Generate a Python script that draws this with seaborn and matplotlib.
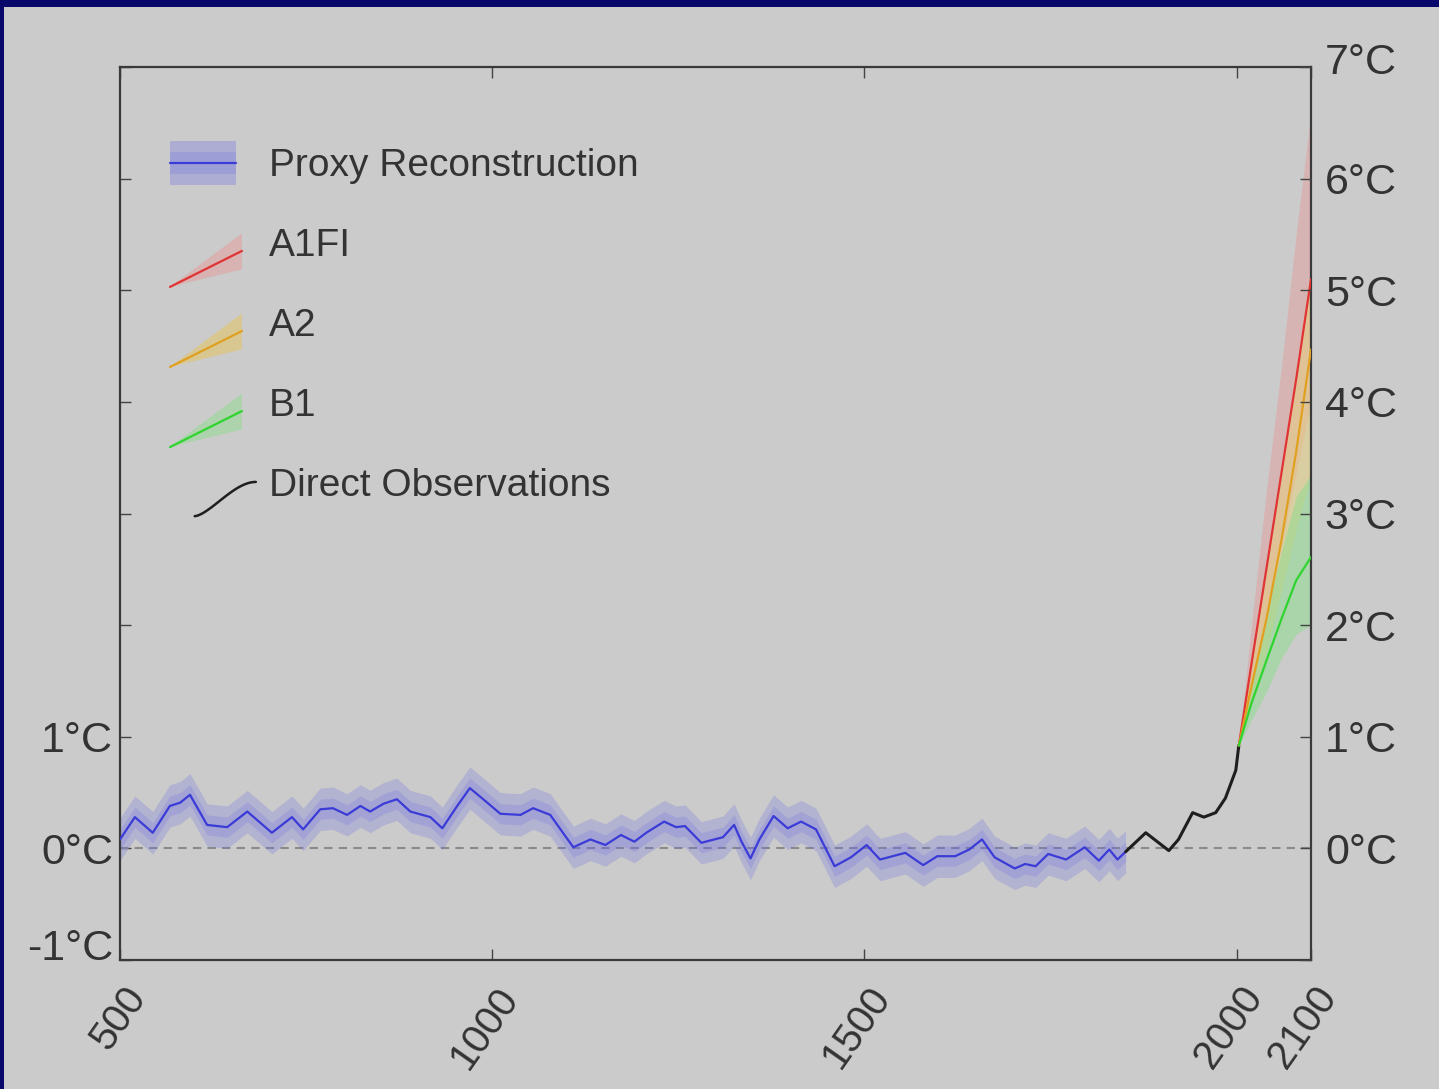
import numpy as np
import pandas as pd
import matplotlib
matplotlib.use("Agg")
import matplotlib.pyplot as plt
import matplotlib.transforms as mtransforms
import seaborn as sns
from matplotlib.patches import Rectangle, Polygon
from matplotlib.lines import Line2D
from matplotlib.legend_handler import HandlerBase


# proxy reconstruction (year, anomaly in degC)
proxy_years = [500, 520, 544, 567, 581, 594, 617, 644, 671, 704, 731, 746, 769, 786,
               805, 823, 836, 854, 872, 890, 917, 933, 953, 970, 988, 1011, 1038,
               1055, 1078, 1095, 1109, 1132, 1152, 1173, 1191, 1207, 1231, 1247,
               1259, 1281, 1310, 1325, 1335, 1347, 1359, 1378, 1397, 1415, 1435,
               1460, 1482, 1503, 1521, 1555, 1579, 1598, 1622, 1641, 1658, 1675,
               1702, 1716, 1730, 1747, 1771, 1796, 1815, 1829, 1840, 1851]
proxy_temp = [0.08, 0.28, 0.14, 0.38, 0.41, 0.48, 0.21, 0.19, 0.33, 0.14, 0.28, 0.17,
              0.35, 0.36, 0.30, 0.38, 0.33, 0.40, 0.44, 0.33, 0.28, 0.18, 0.38, 0.54,
              0.44, 0.31, 0.30, 0.36, 0.30, 0.14, 0.01, 0.08, 0.03, 0.12, 0.06, 0.14,
              0.24, 0.19, 0.20, 0.05, 0.10, 0.21, 0.06, -0.09, 0.08, 0.29, 0.18, 0.24,
              0.17, -0.16, -0.08, 0.03, -0.10, -0.04, -0.15, -0.07, -0.07, -0.01,
              0.08, -0.08, -0.18, -0.14, -0.16, -0.05, -0.10, 0.01, -0.11, -0.01,
              -0.10, -0.03]
proxy_inner = 0.09
proxy_outer = 0.19

# direct observations
obs_years = [1851, 1878, 1909, 1922, 1941, 1956, 1972, 1985, 1999, 2003]
obs_temp = [-0.03, 0.14, -0.02, 0.08, 0.32, 0.28, 0.32, 0.45, 0.70, 0.92]

# scenarios
scen_years = [2003, 2020, 2040, 2060, 2080, 2100]
a1fi_mid = [0.92, 1.65, 2.50, 3.35, 4.20, 5.10]
a1fi_lo = [0.92, 1.45, 2.05, 2.70, 3.35, 4.00]
a1fi_hi = [0.92, 2.00, 3.20, 4.30, 5.50, 6.60]
a2_mid = [0.92, 1.45, 2.05, 2.75, 3.55, 4.47]
a2_lo = [0.92, 1.30, 1.75, 2.30, 2.85, 3.35]
a2_hi = [0.92, 1.65, 2.50, 3.40, 4.30, 5.20]
b1_mid = [0.92, 1.30, 1.68, 2.05, 2.40, 2.61]
b1_lo = [0.92, 1.15, 1.40, 1.70, 1.92, 2.00]
b1_hi = [0.92, 1.50, 2.10, 2.65, 3.15, 3.35]

x_ticks = [500, 1000, 1500, 2000, 2100]
y_ticks = [-1, 0, 1, 2, 3, 4, 5, 6, 7]
left_labels = ["-1°C", "0°C", "1°C", "", "", "", "", "", ""]
right_labels = ["", "0°C", "1°C", "2°C", "3°C", "4°C", "5°C", "6°C", "7°C"]

BG = "#cbcbcb"
NAVY = "#08086a"
TXT = "#333333"
BLUE = "#3b3bd8"
RED = "#e03434"
ORANGE = "#e0a020"
GREEN = "#2fd42f"

sns.set_style("ticks")
plt.rcParams["font.family"] = ["Liberation Sans", "DejaVu Sans"]

fig = plt.figure(figsize=(14.39, 10.89), dpi=100, facecolor=NAVY)
fig.add_artist(Rectangle((4 / 1439, 0), 1, 1 - 7 / 1089, transform=fig.transFigure,
                         fc=BG, ec="none", zorder=-5))
ax = fig.add_axes([120 / 1439, 1 - 960 / 1089, 1191 / 1439, 893 / 1089])
ax.set_facecolor(BG)

py = np.array(proxy_temp)
ax.fill_between(proxy_years, py - proxy_outer, py + proxy_outer, color="#6a6ae6",
                alpha=0.25, lw=0, zorder=2)
ax.fill_between(proxy_years, py - proxy_inner, py + proxy_inner, color="#6a6ae6",
                alpha=0.22, lw=0, zorder=2)

ax.fill_between(scen_years, a1fi_lo, a1fi_hi, color="#e79a9a", alpha=0.45, lw=0, zorder=2)
ax.fill_between(scen_years, a2_lo, a2_hi, color="#e8d27a", alpha=0.5, lw=0, zorder=2)
ax.fill_between(scen_years, b1_lo, b1_hi, color="#8fdc8f", alpha=0.55, lw=0, zorder=2)

ax.axhline(0, color="#8a8a8a", ls=(0, (4, 3)), lw=1.5, zorder=1)

proxy_df = pd.DataFrame({"year": proxy_years, "temp": proxy_temp})
obs_df = pd.DataFrame({"year": obs_years, "temp": obs_temp})
sns.lineplot(data=proxy_df, x="year", y="temp", color=BLUE, lw=1.6, ax=ax, zorder=3)
sns.lineplot(data=obs_df, x="year", y="temp", color="#1e1e1e", lw=2.2, ax=ax, zorder=3)
for mid, col in [(a1fi_mid, RED), (a2_mid, ORANGE), (b1_mid, GREEN)]:
    sns.lineplot(x=scen_years, y=mid, color=col, lw=1.6, ax=ax, zorder=3)

ax.set_xlim(500, 2100)
ax.set_ylim(-1, 7)
ax.set_xlabel("")
ax.set_ylabel("")

for s in ax.spines.values():
    s.set_color("#3a3a3a")
    s.set_linewidth(1.6)
    s.set_visible(True)

ax.set_xticks(x_ticks)
ax.set_xticklabels([str(v) for v in x_ticks], fontsize=29, color=TXT)
ax.tick_params(axis="x", direction="in", top=True, length=8, width=1,
               color="#444444", pad=22)
offset = mtransforms.ScaledTranslation(0.18, 0, fig.dpi_scale_trans)
for lab in ax.get_xticklabels():
    lab.set_rotation(55)
    lab.set_ha("right")
    lab.set_va("center")
    lab.set_rotation_mode("anchor")
    lab.set_transform(lab.get_transform() + offset)

ax.set_yticks(y_ticks)
ax.set_yticklabels(left_labels, fontsize=31, color=TXT)
ax.tick_params(axis="y", direction="in", length=8, width=1, color="#444444", pad=5)
# lowest label sits a little above its tick
low = ax.get_yticklabels()[0]
low.set_transform(low.get_transform() +
                  mtransforms.ScaledTranslation(0, 0.16, fig.dpi_scale_trans))

ax2 = ax.twinx()
ax2.set_ylim(-1, 7)
ax2.set_yticks(y_ticks)
ax2.set_yticklabels(right_labels, fontsize=31, color=TXT)
ax2.tick_params(axis="y", direction="in", length=8, width=1, color="#444444", pad=10)
for s in ax2.spines.values():
    s.set_visible(False)
top = ax2.get_yticklabels()[-1]
top.set_transform(top.get_transform() +
                  mtransforms.ScaledTranslation(0, 0.09, fig.dpi_scale_trans))


# legend glyphs
class ProxyHandler(HandlerBase):
    def create_artists(self, legend, orig_handle, xd, yd, w, h, fs, trans):
        x0, y0 = -xd, -yd
        outer = Rectangle((x0, y0), w * 0.92, h, fc="#6a6ae6", alpha=0.3, ec="none",
                          transform=trans)
        inner = Rectangle((x0, y0 + h * 0.25), w * 0.92, h * 0.5, fc="#6a6ae6",
                          alpha=0.22, ec="none", transform=trans)
        line = Line2D([x0, x0 + w * 0.92], [y0 + h / 2] * 2, color=BLUE, lw=1.6,
                      transform=trans)
        return [outer, inner, line]


class WedgeHandler(HandlerBase):
    def __init__(self, line_color, fill_color):
        super().__init__()
        self.line_color = line_color
        self.fill_color = fill_color

    def create_artists(self, legend, orig_handle, xd, yd, w, h, fs, trans):
        x0, y0 = -xd, -yd
        tip = (x0, y0 - 0.5 * h)
        poly = Polygon([tip, (x0 + w, y0 + 0.72 * h), (x0 + w, y0 - 0.1 * h)],
                       closed=True, fc=self.fill_color, alpha=0.5, ec="none",
                       transform=trans)
        line = Line2D([tip[0], x0 + w], [tip[1], y0 + 0.32 * h], color=self.line_color,
                      lw=1.6, transform=trans)
        return [poly, line]


class ObsHandler(HandlerBase):
    def create_artists(self, legend, orig_handle, xd, yd, w, h, fs, trans):
        x0, y0 = -xd, -yd
        t = np.linspace(0, 1, 40)
        xs = x0 + w * (0.15 + 0.85 * t) + 10
        ys = y0 + h * (-0.25 + 0.78 * (3 * t ** 2 - 2 * t ** 3) ** 0.8)
        line = Line2D(xs, ys, color="#1e1e1e", lw=1.8, transform=trans)
        return [line]


h_proxy = Line2D([], [], color=BLUE)
h_a1fi = Line2D([], [], color=RED)
h_a2 = Line2D([], [], color=ORANGE)
h_b1 = Line2D([], [], color=GREEN)
h_obs = Line2D([], [], color="black")

leg = ax.legend(
    [h_proxy, h_a1fi, h_a2, h_b1, h_obs],
    ["Proxy Reconstruction", "A1FI", "A2", "B1", "Direct Observations"],
    handler_map={
        h_proxy: ProxyHandler(),
        h_a1fi: WedgeHandler(RED, "#e79a9a"),
        h_a2: WedgeHandler(ORANGE, "#e8c45a"),
        h_b1: WedgeHandler(GREEN, "#8fdc8f"),
        h_obs: ObsHandler(),
    },
    loc="upper left", bbox_to_anchor=(50 / 1191, 1 - 74 / 893), borderaxespad=0,
    borderpad=0, frameon=False, fontsize=28, handlelength=1.85, handleheight=1.36,
    labelspacing=0.93, handletextpad=0.7, labelcolor=TXT,
)

fig.savefig("out.png", dpi=100, facecolor=fig.get_facecolor())
